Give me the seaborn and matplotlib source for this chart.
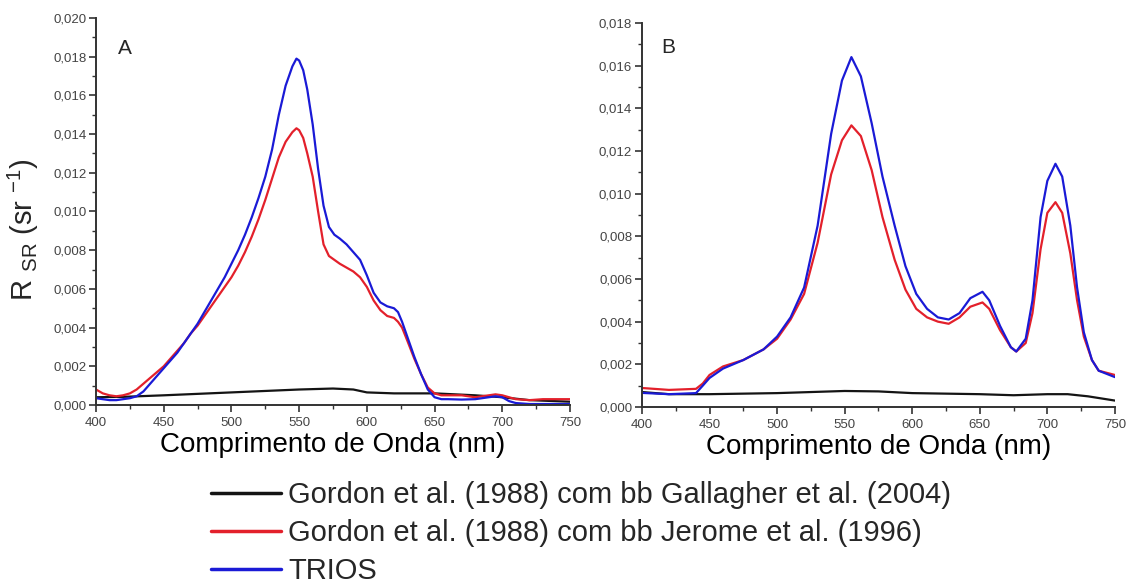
import numpy as np
import pandas as pd
import seaborn as sns
import matplotlib.pyplot as plt
from matplotlib.ticker import FuncFormatter, MultipleLocator

# Panel A
wlA = [400, 405, 410, 415, 420, 425, 430, 435, 440, 445, 450, 455, 460, 465, 470, 475,
       480, 485, 490, 495, 500, 505, 510, 515, 520, 525, 530, 535, 540, 545, 548, 550,
       553, 556, 560, 564, 568, 572, 576, 580, 585, 590, 595, 600, 605, 610, 615, 620,
       623, 626, 630, 635, 640, 645, 650, 655, 660, 670, 680, 690, 695, 700, 705, 710,
       720, 730, 740, 750]
triosA = [0.00035, 0.0003, 0.00025, 0.00025, 0.0003, 0.00035, 0.00045, 0.0007, 0.0011,
          0.0015, 0.0019, 0.0023, 0.0027, 0.0032, 0.0037, 0.0042, 0.0048, 0.0054, 0.0060,
          0.0066, 0.0073, 0.0080, 0.0088, 0.0097, 0.0107, 0.0118, 0.0132, 0.0150, 0.0165,
          0.0175, 0.0179, 0.0178, 0.0173, 0.0163, 0.0145, 0.0122, 0.0103, 0.0092, 0.0088,
          0.0086, 0.0083, 0.0079, 0.0075, 0.0067, 0.0058, 0.0053, 0.0051, 0.0050, 0.0048,
          0.0043, 0.0035, 0.0025, 0.0016, 0.0008, 0.0004, 0.0003, 0.0003, 0.00028, 0.0003,
          0.0004, 0.00045, 0.0004, 0.0002, 0.0001, 0.00005, 0.00005, 0.00005, 0.00005]
jeromeA = [0.0008, 0.0006, 0.0005, 0.00045, 0.0005, 0.0006, 0.0008, 0.0011, 0.0014,
           0.0017, 0.0020, 0.0024, 0.0028, 0.0032, 0.0037, 0.0041, 0.0046, 0.0051, 0.0056,
           0.0061, 0.0066, 0.0072, 0.0079, 0.0087, 0.0096, 0.0106, 0.0117, 0.0128, 0.0136,
           0.0141, 0.0143, 0.0142, 0.0138, 0.0130, 0.0118, 0.0100, 0.0083, 0.0077, 0.0075,
           0.0073, 0.0071, 0.0069, 0.0066, 0.0061, 0.0054, 0.0049, 0.0046, 0.0045, 0.0043,
           0.0040, 0.0033, 0.0024, 0.0016, 0.0009, 0.0006, 0.0005, 0.0005, 0.0005, 0.0004,
           0.0005, 0.00055, 0.0005, 0.0004, 0.0003, 0.00025, 0.0003, 0.0003, 0.0003]
wlA_gal = [400, 420, 450, 500, 550, 575, 590, 600, 620, 650, 680, 700, 720, 750]
gallagherA = [0.0004, 0.00042, 0.0005, 0.00065, 0.0008, 0.00085, 0.0008, 0.00065,
              0.0006, 0.0006, 0.0005, 0.0004, 0.00025, 0.00017]

# Panel B
wlB = [400, 420, 440, 445, 450, 460, 475, 490, 500, 510, 520, 530, 540, 548, 555, 562,
       570, 578, 587, 595, 603, 611, 619, 627, 635, 643, 652, 657, 665, 673, 677, 684,
       689, 695, 700, 706, 711, 717, 722, 727, 733, 738, 750]
triosB = [0.00066, 0.0006, 0.00065, 0.0010, 0.00136, 0.0018, 0.0022, 0.0027, 0.0033,
          0.0042, 0.0056, 0.0085, 0.0128, 0.0153, 0.0164, 0.0155, 0.0133, 0.0108, 0.0085,
          0.0066, 0.0053, 0.0046, 0.0042, 0.0041, 0.0044, 0.0051, 0.0054, 0.0050, 0.0038,
          0.0028, 0.0026, 0.0032, 0.0050, 0.0089, 0.0106, 0.0114, 0.0108, 0.0085, 0.0056,
          0.0035, 0.0022, 0.0017, 0.0014]
jeromeB = [0.00089, 0.0008, 0.00085, 0.0011, 0.0015, 0.0019, 0.0022, 0.0027, 0.0032,
           0.0041, 0.0053, 0.0077, 0.0109, 0.0125, 0.0132, 0.0127, 0.0111, 0.0089, 0.0069,
           0.0055, 0.0046, 0.0042, 0.0040, 0.0039, 0.0042, 0.0047, 0.0049, 0.0046, 0.0036,
           0.0028, 0.0026, 0.0030, 0.0044, 0.0074, 0.0091, 0.0096, 0.0091, 0.0072, 0.0050,
           0.0033, 0.0022, 0.0017, 0.0015]
wlB_gal = [400, 420, 450, 500, 550, 575, 600, 650, 675, 700, 715, 730, 750]
gallagherB = [0.0007, 0.0006, 0.0006, 0.00065, 0.00075, 0.00073, 0.00065, 0.0006,
              0.00055, 0.0006, 0.0006, 0.0005, 0.0003]

labels = ["Gordon et al. (1988) com bb Gallagher et al. (2004)",
          "Gordon et al. (1988) com bb Jerome et al. (1996)",
          "TRIOS"]
colors = ["#141414", "#e3202b", "#1a1ad6"]
xticks = [400, 450, 500, 550, 600, 650, 700, 750]


def make_df(wl_gal, gal, wl, jer, tri):
    parts = [pd.DataFrame({"wl": wl_gal, "rsr": gal, "serie": labels[0]}),
             pd.DataFrame({"wl": wl, "rsr": jer, "serie": labels[1]}),
             pd.DataFrame({"wl": wl, "rsr": tri, "serie": labels[2]})]
    return pd.concat(parts, ignore_index=True)


dfA = make_df(wlA_gal, gallagherA, wlA, jeromeA, triosA)
dfB = make_df(wlB_gal, gallagherB, wlB, jeromeB, triosB)

sns.set_theme(style="ticks")
plt.rcParams['font.family'] = ['Liberation Sans', 'DejaVu Sans']
plt.rcParams['mathtext.default'] = 'regular'

fig = plt.figure(figsize=(11.35, 5.86), dpi=100)
axA = fig.add_axes([0.0846, 0.3089, 0.4176, 0.6604])
axB = fig.add_axes([0.5656, 0.3055, 0.4167, 0.6553])

pal = dict(zip(labels, colors))
comma = FuncFormatter(lambda v, p: ("%.3f" % v).replace(".", ","))

for ax, df, ymax, letter, lx, ly in [(axA, dfA, 0.020, "A", 0.061, 0.922),
                                     (axB, dfB, 0.018, "B", 0.055, 0.935)]:
    sns.lineplot(data=df, x="wl", y="rsr", hue="serie", palette=pal, hue_order=labels,
                 linewidth=1.6, legend=False, ax=ax, sort=False)
    ax.set_xlim(400, 750)
    ax.set_ylim(0, ymax)
    ax.set_xticks(xticks)
    ax.xaxis.set_minor_locator(MultipleLocator(25))
    ax.yaxis.set_major_locator(MultipleLocator(0.002))
    ax.yaxis.set_minor_locator(MultipleLocator(0.001))
    ax.yaxis.set_major_formatter(comma)
    ax.tick_params(which="major", direction="out", length=5, width=1.2, color="#333333",
                   labelsize=9.5, labelcolor="#444444", pad=2)
    ax.tick_params(axis="x", which="major", pad=4)
    ax.tick_params(which="minor", direction="out", length=3, width=1.0, color="#333333")
    for s in ["top", "right"]:
        ax.spines[s].set_visible(False)
    for s in ["left", "bottom"]:
        ax.spines[s].set_color("#333333")
        ax.spines[s].set_linewidth(1.4)
    ax.set_xlabel("Comprimento de Onda (nm)", fontsize=20, color="black", labelpad=2)
    ax.set_ylabel("")
    ax.text(lx, ly, letter, transform=ax.transAxes, fontsize=15, ha="center", va="center")

fig.text(23 / 1135, 1 - 230 / 586, "R $_{SR}$ (sr $^{-1}$)", rotation=90,
         fontsize=21, ha="center", va="center")

handles = [plt.Line2D([], [], color=c, lw=2.5) for c in colors]
fig.legend(handles, labels, loc="upper left", bbox_to_anchor=(211 / 1135, 1 - 481 / 586),
           frameon=False, fontsize=21, handlelength=2.4, handletextpad=0.24,
           labelspacing=0.35, borderaxespad=0, borderpad=0)

fig.savefig("out.png", dpi=100)
